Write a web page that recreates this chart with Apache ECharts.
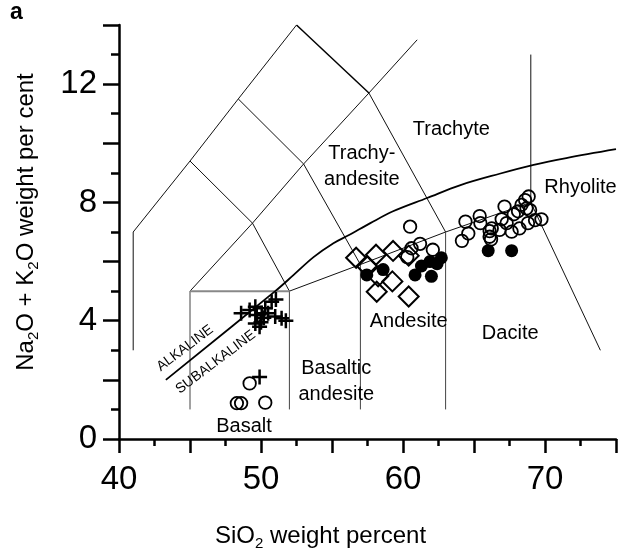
<!DOCTYPE html>
<html>
<head>
<meta charset="utf-8">
<script src="https://cdn.jsdelivr.net/npm/echarts@6/dist/echarts.min.js"></script>
<style>html,body{margin:0;padding:0;background:#fff;}#c{width:621px;height:555px;}</style>
</head>
<body>
<div id="c"></div>
<script>
// ---- data ----
var xTicks = [40, 50, 60, 70];
var yTicks = [0, 4, 8, 12];

var crosses = [[48.6,4.25],[49.2,4.36],[49.7,4.19],[49.6,3.91],[49.9,3.8],[50.05,4.25],[50.3,4.42],[50.5,4.25],[50.75,4.64],[51.05,4.72],[51.0,4.14],[51.45,4.08],[51.75,4.0],[50.0,3.95],[49.6,4.47],[50.2,4.1],[49.9,2.1]];
var diamonds = [[56.7,6.13],[58.1,6.23],[59.3,6.36],[60.4,6.2],[57.45,5.85],[58.25,5.5],[58.15,4.98],[59.25,5.33],[60.4,4.82]];
var filledCircles = [[57.45,5.55],[58.6,5.73],[60.85,5.55],[61.3,5.85],[61.9,6.0],[62.0,5.5],[62.7,6.13],[62.4,5.93],[66.0,6.37],[67.65,6.37]];
var openCircles = [[49.2,1.88],[48.3,1.21],[48.6,1.21],[50.3,1.23],
  [60.5,7.18],[60.6,6.45],[61.2,6.6],[62.1,6.4],[60.3,6.15],
  [64.15,6.7],[64.6,6.95],[64.4,7.35],[65.4,7.54],[65.45,7.3],[66.1,7.03],[66.1,6.84],[66.25,7.12],[66.8,7.07],[66.95,7.43],[67.15,7.86],[67.65,7.01],[67.8,7.6],[68.2,7.12],[68.35,7.92],[68.6,8.08],[68.85,8.2],[68.7,7.8],[68.95,7.74],[68.8,7.3],[68.1,7.7],[69.75,7.43],[69.3,7.4],[66.2,6.75],[67.3,7.3]];

// TAS field boundaries
var outerLeft = [[41,3],[41,7],[45,9.4],[48.4,11.5],[52.5,14]];
var outerTop = [[52.5,14],[57.6,11.7]];
var outerRight = [[57.6,11.7],[61,13.5]];
var lineA = [[45,9.4],[49.4,7.3],[52,5]];
var lineB = [[45,5],[49.4,7.3],[53,9.3],[57.6,11.7]];
var lineC = [[48.4,11.5],[53,9.3],[57,5.9]];
var lineD = [[57.6,11.7],[63,7]];
var lineE = [[52,5],[57,5.9],[63,7],[69,8]];
var lineF = [[69,8],[69,13]];
var lineG = [[69,8],[73.9,3]];
var v45 = [[45,1],[45,5]];
var v52 = [[52,1],[52,5]];
var v57 = [[57,1],[57,5.9]];
var v63 = [[63,1],[63,7]];
var basaltTop = [[45,5],[52,5]];
var alkalineCurve = [[43.3,2.0],[51.0,5.0],[52.3,5.55],[53.7,6.15],[55.1,6.62],[56.2,6.9],[57.7,7.3],[59.3,7.7],[61.7,8.15],[64.0,8.58],[66.8,8.97],[69.2,9.27],[71.5,9.5],[75,9.8]];

var fieldLabels = [
  {name:'Trachyte', value:[63.4,10.45]},
  {name:'Trachy-\nandesite', value:[57.1,9.2]},
  {name:'Rhyolite', value:[72.5,8.49]},
  {name:'Andesite', value:[60.4,3.97]},
  {name:'Dacite', value:[67.55,3.58]},
  {name:'Basaltic\nandesite', value:[55.3,1.93]},
  {name:'Basalt', value:[48.8,0.41]}
];
var seriesLabels = [
  {name:'ALKALINE', value:[44.65,3.07]},
  {name:'SUBALKALINE', value:[46.8,2.6]}
];

// ---- chart ----
var chart = echarts.init(document.getElementById('c'));
var FONT = '"Liberation Sans", Arial, Helvetica, sans-serif';
function boundary(d, w, c) {
  return {type:'line', data:d, showSymbol:false, symbol:'none', silent:true, z:1,
    lineStyle:{color:c||'#111', width:w||1, opacity:1}};
}
var plusPath = 'path://M5,0H7V5H12V7H7V12H5V7H0V5H5Z';

chart.setOption({
  animation:false,
  backgroundColor:'#fff',
  textStyle:{fontFamily:FONT},
  grid:{left:119, right:5, top:25, bottom:116, containLabel:false, outerBoundsMode:'none'},
  graphic:[{type:'text', left:10, top:1, style:{text:'a', font:'bold 23px ' + FONT, fill:'#000'}}],
  xAxis:{
    type:'value', min:40, max:75, interval:5,
    splitLine:{show:false},
    axisLine:{onZero:false, lineStyle:{color:'#000', width:2.5}},
    axisTick:{show:true, length:14, lineStyle:{color:'#000', width:2.5}},
    minorTick:{show:true, splitNumber:2, length:7, lineStyle:{color:'#000', width:2.5}},
    axisLabel:{fontSize:33, color:'#000', margin:24, fontFamily:FONT,
      formatter:function(v){return xTicks.indexOf(v) >= 0 ? String(v) : '';}},
    name:'SiO{s|2} weight percent', nameLocation:'middle', nameGap:82,
    nameTextStyle:{fontSize:24, color:'#000', fontFamily:FONT, lineHeight:30, padding:[0,94,0,0],
      rich:{s:{fontSize:15, verticalAlign:'bottom', lineHeight:16, fontFamily:FONT, color:'#000'}}}
  },
  yAxis:{
    type:'value', min:0, max:14, interval:2,
    splitLine:{show:false},
    axisLine:{onZero:false, lineStyle:{color:'#000', width:2.5}},
    axisTick:{show:true, length:16, lineStyle:{color:'#000', width:2.5}},
    minorTick:{show:true, splitNumber:2, length:8, lineStyle:{color:'#000', width:2.5}},
    axisLabel:{fontSize:33, color:'#000', margin:22, fontFamily:FONT,
      formatter:function(v){return yTicks.indexOf(v) >= 0 ? String(v) : '';}},
    name:'Na{s|2}O + K{s|2}O weight per cent', nameLocation:'middle', nameRotate:90, nameGap:78,
    nameTextStyle:{fontSize:24, color:'#000', fontFamily:FONT, lineHeight:30, padding:[0,0,0,20],
      rich:{s:{fontSize:15, verticalAlign:'bottom', lineHeight:16, fontFamily:FONT, color:'#000'}}}
  },
  series:[
    boundary(outerLeft,1),
    boundary(outerTop,1.5,'#000'),
    boundary(outerRight,1),
    boundary(lineA,1), boundary(lineB,1), boundary(lineC,1), boundary(lineD,1),
    boundary(lineE,1), boundary(lineF,1), boundary(lineG,1),
    boundary(v45,1,'#444'), boundary(v52,1,'#444'), boundary(v57,1,'#444'), boundary(v63,1,'#444'),
    boundary(basaltTop,2,'#888'),
    {type:'line', data:alkalineCurve, showSymbol:false, symbol:'none', smooth:0.35, silent:true, z:2,
      lineStyle:{color:'#000', width:1.8}},
    {type:'scatter', data:crosses, symbol:plusPath, symbolSize:15, z:5,
      itemStyle:{color:'#000', opacity:1}},
    {type:'scatter', data:diamonds, symbol:'diamond', symbolSize:[20,20], z:5,
      itemStyle:{color:'rgba(0,0,0,0)', borderColor:'#000', borderWidth:2, opacity:1}},
    {type:'scatter', data:filledCircles, symbol:'circle', symbolSize:13, z:5,
      itemStyle:{color:'#000', opacity:1}},
    {type:'scatter', data:openCircles, symbol:'circle', symbolSize:12.5, z:5,
      itemStyle:{color:'rgba(0,0,0,0)', borderColor:'#000', borderWidth:1.8, opacity:1}},
    {type:'scatter', data:fieldLabels, symbolSize:0, silent:true, z:6,
      itemStyle:{opacity:1},
      label:{show:true, position:'inside', formatter:'{b}', fontSize:20, lineHeight:26, color:'#000', textBorderWidth:0, fontFamily:FONT}},
    {type:'scatter', data:seriesLabels, symbolSize:0, silent:true, z:6,
      itemStyle:{opacity:1},
      label:{show:true, position:'inside', formatter:'{b}', fontSize:14, rotate:37, color:'#000', textBorderWidth:0, fontFamily:FONT}}
  ]
});
</script>
</body>
</html>
